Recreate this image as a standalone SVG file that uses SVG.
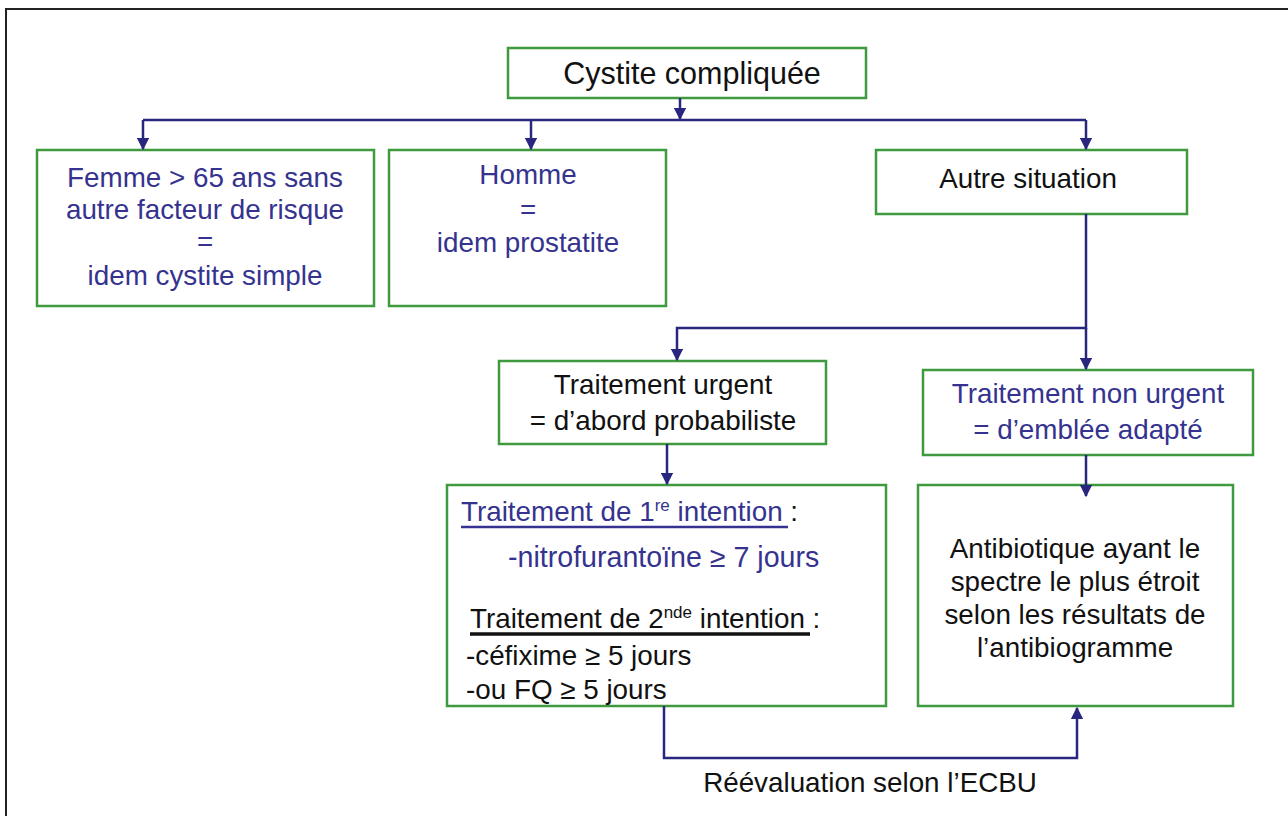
<svg xmlns="http://www.w3.org/2000/svg" width="1288" height="816" viewBox="0 0 1288 816">
<defs>
<style>
.box{fill:#fff;stroke:#3f9a3f;stroke-width:2.5}
.t{font-family:"Liberation Sans",Arial,sans-serif;font-size:27.8px;fill:#111}
.b{fill:#35338f}
.c{text-anchor:middle}
.con{fill:none;stroke:#28267f;stroke-width:2.5}
</style>
<marker id="ah" viewBox="0 0 10 10" refX="9" refY="5" markerWidth="5" markerHeight="5" orient="auto" markerUnits="strokeWidth">
<path d="M0,0 L10,5 L0,10 z" fill="#28267f"/>
</marker>
</defs>
<rect x="0" y="0" width="1288" height="816" fill="#fff"/>
<rect x="6" y="9" width="1300" height="830" fill="none" stroke="#222" stroke-width="2"/>

<g id="n-cystite">
<rect class="box" x="508" y="48" width="358" height="50"/>
<text class="t c" x="692" y="84" style="font-size:30.5px">Cystite compliquée</text>
</g>
<g id="n-femme">
<rect class="box" x="37" y="150" width="337" height="156"/>
<text class="t b c" x="205" y="187">Femme &gt; 65 ans sans</text>
<text class="t b c" x="205" y="219">autre facteur de risque</text>
<text class="t b c" x="205" y="251">=</text>
<text class="t b c" x="205" y="285">idem cystite simple</text>
</g>
<g id="n-homme">
<rect class="box" x="389" y="150" width="277" height="156"/>
<text class="t b c" x="528" y="184">Homme</text>
<text class="t b c" x="528" y="219">=</text>
<text class="t b c" x="528" y="252">idem prostatite</text>
</g>
<g id="n-autre">
<rect class="box" x="876" y="150" width="311" height="64"/>
<text class="t c" x="1028" y="188">Autre situation</text>
</g>
<g id="n-urgent">
<rect class="box" x="499" y="361" width="327" height="83"/>
<text class="t c" x="663" y="394">Traitement urgent</text>
<text class="t c" x="663" y="430">= d’abord probabiliste</text>
</g>
<g id="n-nonurgent">
<rect class="box" x="923" y="370" width="330" height="85"/>
<text class="t b c" x="1088" y="403">Traitement non urgent</text>
<text class="t b c" x="1088" y="439">= d’emblée adapté</text>
</g>
<g id="n-probabiliste">
<rect class="box" x="447" y="485" width="439" height="221"/>
<text class="t b" x="461" y="521">Traitement de 1<tspan font-size="17" dy="-10">re</tspan><tspan dy="10"> intention </tspan><tspan fill="#111">:</tspan></text>
<line x1="461" y1="527" x2="788" y2="527" stroke="#35338f" stroke-width="2.5"/>
<text class="t b" x="508" y="567" style="font-size:28.6px">-nitrofurantoïne ≥ 7 jours</text>
<text class="t" x="470" y="628">Traitement de 2<tspan font-size="17" dy="-10">nde</tspan><tspan dy="10"> intention :</tspan></text>
<line x1="470" y1="634" x2="810" y2="634" stroke="#111" stroke-width="3.5"/>
<text class="t" x="466" y="665">-céfixime ≥ 5 jours</text>
<text class="t" x="466" y="699">-ou FQ ≥ 5 jours</text>
</g>
<g id="n-adapte">
<rect class="box" x="918" y="485" width="315" height="221"/>
<text class="t c" x="1075" y="558">Antibiotique ayant le</text>
<text class="t c" x="1075" y="591">spectre le plus étroit</text>
<text class="t c" x="1075" y="624">selon les résultats de</text>
<text class="t c" x="1075" y="657">l’antibiogramme</text>
</g>

<g id="connectors">
<path class="con" d="M680,98 V119" marker-end="url(#ah)"/>
<path class="con" d="M143,120 H1086"/>
<path class="con" d="M143,120 V149" marker-end="url(#ah)"/>
<path class="con" d="M531,120 V149" marker-end="url(#ah)"/>
<path class="con" d="M1086,120 V149" marker-end="url(#ah)"/>
<path class="con" d="M1086,214 V328 H677 V360" marker-end="url(#ah)"/>
<path class="con" d="M1086,328 V369" marker-end="url(#ah)"/>
<path class="con" d="M667,444 V484" marker-end="url(#ah)"/>
<path class="con" d="M1086,455 V496" marker-end="url(#ah)"/>
<path class="con" d="M664,706 V758 H1077 V708" marker-end="url(#ah)"/>
<text class="t c" x="870" y="792">Réévaluation selon l’ECBU</text>
</g>
</svg>
